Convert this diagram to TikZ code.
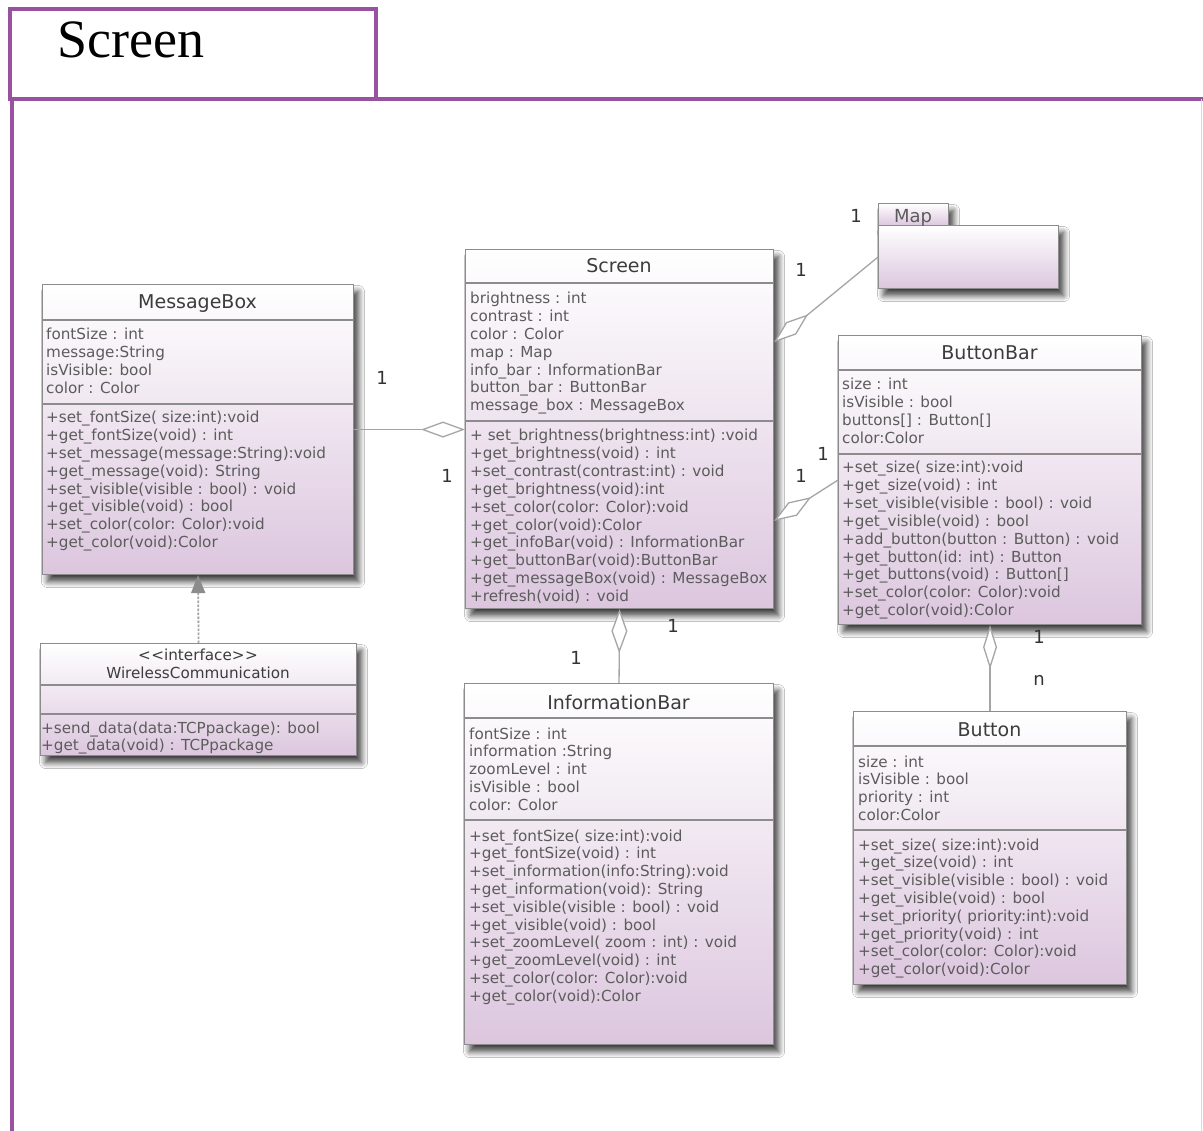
\documentclass[tikz,border=0pt]{standalone}
\usepackage{fontspec}
\setmainfont{DejaVu Sans}
\newfontfamily\framefont{Liberation Serif}
\usetikzlibrary{arrows.meta,calc,shadows.blur}

\definecolor{framepurple}{RGB}{152,82,160}
\definecolor{boxline}{RGB}{140,140,140}
\definecolor{lav}{RGB}{220,198,222}
\definecolor{txtgray}{RGB}{92,92,92}
\definecolor{ttlgray}{RGB}{60,60,60}
\definecolor{linkgray}{RGB}{165,165,165}
\definecolor{tipgray}{RGB}{140,140,140}

\tikzset{
  classbox/.style={draw=boxline, line width=1.1pt, top color=white, bottom color=lav,
    inner sep=0pt, anchor=north west,
    blur shadow={shadow xshift=5pt, shadow yshift=-7pt, shadow blur radius=6pt,
      shadow blur steps=8, shadow opacity=75}},
  compsep/.style={draw=boxline, line width=1.6pt},
  member/.style={inner sep=0pt, anchor=base west, text=txtgray, font=\fontsize{15.2}{17}\selectfont},
  cname/.style={inner sep=0pt, anchor=base, text=ttlgray, font=\fontsize{19}{22}\selectfont},
  mult/.style={inner sep=0pt, anchor=center, text=black!80, font=\fontsize{18}{20}\selectfont},
  agg/.style={draw=linkgray, line width=1.3pt, {Diamond[length=44pt,width=16pt,fill=white]}-},
  realize/.style={draw=linkgray, line width=1.8pt, dash pattern=on 2.5pt off 1.5pt,
    -{Triangle[length=18pt,width=14pt,color=tipgray,fill=tipgray]}},
}

% one text line per member, spaced evenly
\newcommand{\classlines}[4]{%
  \foreach \t [count=\i] in {#4}{\node[member] (#1\i) at (#2,{#3+2+(\i-1)*17.8}) {\t};}}
% horizontal compartment separator across a class box
\newcommand{\compline}[2]{%
  \draw[compsep] ($(#1.north west)+(0,#2)$) -- ($(#1.north east)+(0,#2)$);}

\begin{document}
\begin{tikzpicture}[x=1pt,y=-1pt]
\path[use as bounding box, fill=white] (0,0) rectangle (1203,1131);

% package frame
\draw[framepurple, line width=4pt] (9.5,9.5) rectangle (376,99.5);
\draw[framepurple, line width=4pt] (11.5,1131) -- (11.5,99.5) -- (1203,99.5);
\draw[framepurple!25, line width=1pt] (1201,99.5) -- (1201,1131);
\node[anchor=base west, inner sep=0pt, font=\framefont\fontsize{54}{60}\selectfont] (frameTitle) at (57,58) {Screen};

% ---------- MessageBox ----------
\node[classbox, minimum width=311pt, minimum height=290pt] (mb) at (42,284) {};
\compline{mb}{36}
\compline{mb}{120}
\node[cname] (mbT) at (197.5,309) {MessageBox};
\classlines{mbA}{46}{338}{fontSize : int, message:String, isVisible: bool, color : Color}
\classlines{mbO}{46}{421}{+set\_fontSize( size:int):void, +get\_fontSize(void) : int,
  +set\_message(message:String):void, +get\_message(void): String,
  +set\_visible(visible : bool) : void, +get\_visible(void) : bool,
  +set\_color(color: Color):void, +get\_color(void):Color}

% ---------- WirelessCommunication ----------
\node[classbox, minimum width=316pt, minimum height=112pt] (wc) at (40,643) {};
\compline{wc}{42}
\compline{wc}{71}
\node[cname, font=\fontsize{15.2}{17}\selectfont] (wcS) at (198,660) {\textless\kern0.5pt\textless interface\textgreater\kern0.5pt\textgreater};
\node[cname, font=\fontsize{15.2}{17}\selectfont] (wcT) at (198,678) {WirelessCommunication};
\classlines{wcO}{41}{731}{+send\_data(data:TCPpackage): bool, +get\_data(void) : TCPpackage}

% ---------- Screen ----------
\node[classbox, minimum width=308pt, minimum height=359pt] (scr) at (465,249) {};
\compline{scr}{34}
\compline{scr}{172}
\node[cname] (scrT) at (619,273) {Screen};
\classlines{scrA}{470}{302}{brightness : int, contrast : int, color : Color, map : Map,
  info\_bar : InformationBar, button\_bar : ButtonBar, message\_box : MessageBox}
\classlines{scrO}{470}{439}{{+ set\_brightness(brightness:int) :void}, +get\_brightness(void) : int,
  +set\_contrast(contrast:int) : void, +get\_brightness(void):int,
  +set\_color(color: Color):void, +get\_color(void):Color,
  +get\_infoBar(void) : InformationBar, +get\_buttonBar(void):ButtonBar,
  +get\_messageBox(void) : MessageBox, +refresh(void) : void}

% ---------- Map ----------
\node[classbox, minimum width=70pt, minimum height=22pt] (mapT) at (878,203) {};
\node[classbox, minimum width=180pt, minimum height=63pt] (map) at (878,225) {};
\node[cname, font=\fontsize{18}{20}\selectfont, text=txtgray] (mapN) at (913,223) {Map};

% ---------- ButtonBar ----------
\node[classbox, minimum width=303pt, minimum height=289pt] (bb) at (838,335) {};
\compline{bb}{35}
\compline{bb}{119}
\node[cname] (bbT) at (989.5,360) {ButtonBar};
\classlines{bbA}{842}{388}{size : int, isVisible : bool, {buttons[] : Button[]}, color:Color}
\classlines{bbO}{842}{471}{+set\_size( size:int):void, +get\_size(void) : int,
  +set\_visible(visible : bool) : void, +get\_visible(void) : bool,
  +add\_button(button : Button) : void, +get\_button(id: int) : Button,
  {+get\_buttons(void) : Button[]}, +set\_color(color: Color):void, +get\_color(void):Color}

% ---------- Button ----------
\node[classbox, minimum width=273pt, minimum height=273pt] (btn) at (853,711) {};
\compline{btn}{35}
\compline{btn}{119}
\node[cname] (btnT) at (989.5,736) {Button};
\classlines{btnA}{858}{765}{size : int, isVisible : bool, priority : int, color:Color}
\classlines{btnO}{858}{848}{+set\_size( size:int):void, +get\_size(void) : int,
  +set\_visible(visible : bool) : void, +get\_visible(void) : bool,
  +set\_priority( priority:int):void, +get\_priority(void) : int,
  +set\_color(color: Color):void, +get\_color(void):Color}

% ---------- InformationBar ----------
\node[classbox, minimum width=309pt, minimum height=361pt] (ib) at (464,683) {};
\compline{ib}{35}
\compline{ib}{137}
\node[cname] (ibT) at (618.5,709) {InformationBar};
\classlines{ibA}{469}{737}{fontSize : int, information :String, zoomLevel : int, isVisible : bool, color: Color}
\classlines{ibO}{469}{839}{+set\_fontSize( size:int):void, +get\_fontSize(void) : int,
  +set\_information(info:String):void, +get\_information(void): String,
  +set\_visible(visible : bool) : void, +get\_visible(void) : bool,
  +set\_zoomLevel( zoom : int) : void, +get\_zoomLevel(void) : int,
  +set\_color(color: Color):void, +get\_color(void):Color}

% ---------- connectors ----------
\draw[agg] (mb.east -| scr.west) -- (mb.east);
\draw[agg] ($(scr.north east)!0.259!(scr.south east)$) -- (map.west);
\draw[agg] ($(scr.north east)!0.755!(scr.south east)$) -- (bb.west);
\draw[agg] (scr.south) -- (ib.north);
\draw[agg, {Diamond[length=44pt,width=14pt,fill=white]}-] (bb.south) -- (btn.north);
\draw[realize] (wc.north) -- (mb.south);

% ---------- multiplicities ----------
\node[mult] (m1) at (382,378) {1};
\node[mult] (m2) at (447,476) {1};
\node[mult] (m3) at (801,270) {1};
\node[mult] (m4) at (856,216) {1};
\node[mult] (m5) at (801,476) {1};
\node[mult] (m6) at (823,454) {1};
\node[mult] (m7) at (673,626) {1};
\node[mult] (m8) at (576,658) {1};
\node[mult] (m9) at (1039,637) {1};
\node[mult] (m10) at (1039,680) {n};
\end{tikzpicture}
\end{document}
